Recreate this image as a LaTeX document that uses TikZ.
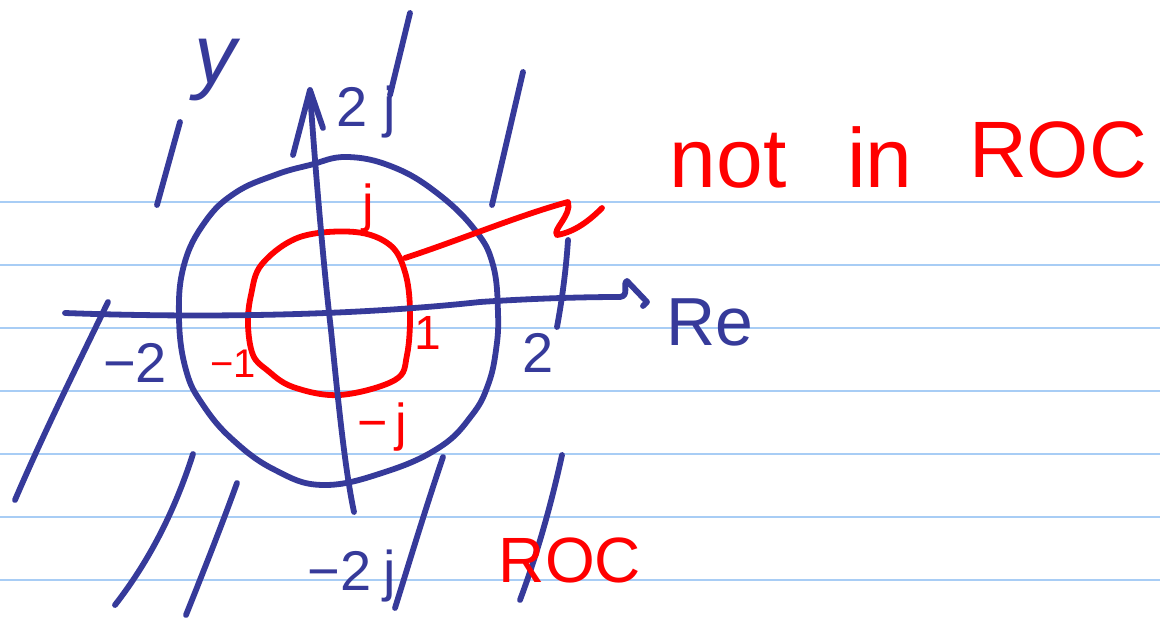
\documentclass[tikz,border=0pt]{standalone}
\usepackage{fontspec}
\setmainfont{Liberation Sans}
\definecolor{inkblue}{HTML}{363A9A}
\definecolor{inkred}{HTML}{FF0000}
\definecolor{ruleblue}{HTML}{A8CDF5}
\begin{document}
\begin{tikzpicture}[x=0.5pt,y=-0.5pt,
  pen/.style={line width=2.9pt, line cap=round, line join=round},
  bluepen/.style={pen, draw=inkblue},
  redpen/.style={pen, draw=inkred},
  ruleline/.style={draw=ruleblue, line width=1pt},
  lbl/.style={inner sep=0pt, anchor=base},
  bluelbl/.style={lbl, text=inkblue},
  redlbl/.style={lbl, text=inkred}]
\useasboundingbox (0,0) rectangle (1160,624);
\fill[white] (0,0) rectangle (1160,624);
% ruled paper lines
\foreach \yy in {201.7,264.8,327.9,391,454.1,517.2,580.3}
  \draw[ruleline] (0,\yy) -- (1160,\yy);
% hatch strokes (blue)
\draw[bluepen] (410,13) -- (390,95);
\draw[bluepen] (180,122) -- (157,205);
\draw[bluepen] (523,72) -- (492,205);
\draw[bluepen] (108,302) .. controls (80,360) and (45,430) .. (15,500);
\draw[bluepen] (193,454) .. controls (175,510) and (150,560) .. (115,605);
\draw[bluepen] (237,483) .. controls (220,530) and (200,580) .. (186,615);
\draw[bluepen] (443,457) .. controls (425,510) and (410,560) .. (395,608);
\draw[bluepen] (562,455) .. controls (550,510) and (535,560) .. (520,600);
\draw[bluepen] (568,240) .. controls (566,270) and (562,300) .. (557,327);
% blue circle |z| = 2
\draw[bluepen] plot[smooth cycle, tension=0.7] coordinates {
  (347,157) (393,167) (437,193) (475,230) (493,265) (498,313) (496,350)
  (488,385) (472,415) (440,447) (385,472) (323,485) (275,470) (233,440)
  (203,405) (186,370) (179,318) (184,265) (205,222) (235,193) (275,175) (310,165)};
% red circle |z| = 1
\draw[redpen] plot[smooth cycle, tension=0.6] coordinates {
  (355,232) (390,245) (405,272) (410,310) (407,355) (395,380) (340,395)
  (293,387) (267,370) (253,355) (248,325) (251,295) (262,264) (300,237)};
% imaginary axis with arrow
\draw[bluepen] (310,92) .. controls (316,180) and (325,280) .. (331,330)
  .. controls (338,400) and (345,470) .. (354,512);
\draw[bluepen] (293,155) -- (310,90) -- (323,128);
% real axis with hooked arrow
\draw[bluepen] (65,313) .. controls (200,318) and (350,316) .. (480,302)
  .. controls (540,298) and (590,297) .. (620,297)
  .. controls (630,296) and (622,283) .. (627,281) -- (647,302) -- (643,306);
% red leader to "not in ROC"
\draw[redpen] (405,258) .. controls (460,240) and (520,215) .. (568,202)
  .. controls (572,215) and (552,230) .. (557,235)
  .. controls (575,232) and (590,220) .. (602,208);
% blue labels
\node[bluelbl, font=\fontsize{42}{46}\selectfont\itshape] (ylbl) at (215,84) {y};
\node[bluelbl, font=\fontsize{28}{32}\selectfont] (twoj) at (366,127) {2\hspace{8pt}j};
\node[bluelbl, font=\fontsize{34}{38}\selectfont] (relbl) at (710,346) {Re};
\node[bluelbl, font=\fontsize{28}{32}\selectfont] (mtwo) at (135,383) {−2};
\node[bluelbl, font=\fontsize{28}{32}\selectfont] (two) at (538,373) {2};
\node[bluelbl, font=\fontsize{28}{32}\selectfont] (mtwoj) at (352,590) {−2\hspace{6pt}j};
% red labels
\node[redlbl, font=\fontsize{26}{30}\selectfont] (jlbl) at (368,222) {j};
\node[redlbl, font=\fontsize{26}{30}\selectfont] (mjlbl) at (382,440) {−\hspace{4pt}j};
\node[redlbl, font=\fontsize{20}{24}\selectfont] (mone) at (233,378) {−1};
\node[redlbl, font=\fontsize{24}{28}\selectfont] (one) at (428,350) {1};
\node[redlbl, font=\fontsize{42}{46}\selectfont] (notw) at (728,188) {not};
\node[redlbl, font=\fontsize{42}{46}\selectfont] (inw) at (880,188) {in};
\node[redlbl, font=\fontsize{40}{44}\selectfont] (rocw) at (1058,178) {ROC};
\node[redlbl, font=\fontsize{32}{36}\selectfont] (roc) at (570,582) {ROC};
\end{tikzpicture}
\end{document}
